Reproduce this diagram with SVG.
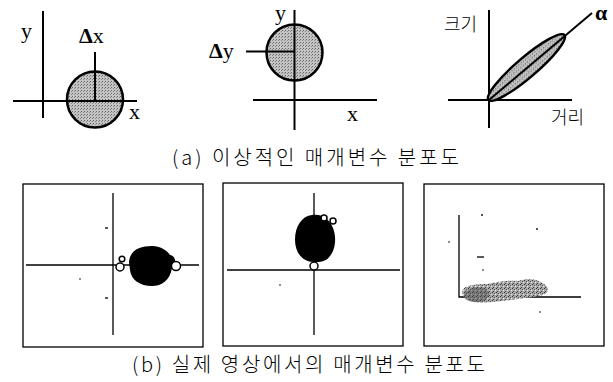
<svg xmlns="http://www.w3.org/2000/svg" width="613" height="382" viewBox="0 0 613 382">
<style>
.ax{stroke:#000;stroke-width:2;fill:none}
.ax1{stroke:#000;stroke-width:1.3;fill:none}
.lbl{font-family:"Liberation Serif","Noto Sans CJK KR",serif;font-size:22px;fill:#000}
.kr{font-family:"Noto Sans CJK KR","Liberation Serif",sans-serif;font-size:18px;font-weight:300;fill:#000}
.cap{font-family:"Noto Sans CJK KR","Liberation Serif",sans-serif;font-size:20px;font-weight:300;fill:#000}
.box{fill:#fff;stroke:#000;stroke-width:1.3}
.blob{fill:#000}
.ring{fill:#fff;stroke:#000;stroke-width:1.5}
</style>
<defs>
<pattern id="dots" width="3" height="3" patternUnits="userSpaceOnUse">
<rect width="3" height="3" fill="#c4c4c4"/>
<rect x="0" y="0" width="1" height="1" fill="#666"/>
<rect x="2" y="1" width="1" height="1" fill="#888"/>
</pattern>
<pattern id="speck" width="4" height="4" patternUnits="userSpaceOnUse">
<rect width="4" height="4" fill="#a8a8a8"/>
<rect x="0" y="0" width="1" height="1" fill="#333"/>
<rect x="2" y="1" width="1" height="1" fill="#555"/>
<rect x="1" y="3" width="1" height="1" fill="#444"/>
<rect x="3" y="2" width="1" height="1" fill="#eee"/>
</pattern>
</defs>

<g id="panel-a1">
<line class="ax" x1="43" y1="11" x2="43" y2="118"/>
<circle cx="95" cy="99.5" r="28" fill="url(#dots)" stroke="#000" stroke-width="2.5"/>
<line class="ax" x1="13" y1="101" x2="137" y2="101"/>
<line class="ax" x1="95" y1="52" x2="95" y2="101"/>
<text class="lbl" x="21" y="38">y</text>
<text class="lbl" x="79" y="43" font-weight="bold">Δ<tspan font-weight="normal">x</tspan></text>
<text class="lbl" x="129" y="119">x</text>
</g>

<g id="panel-a2">
<circle cx="294.5" cy="52.5" r="28" fill="url(#dots)" stroke="#000" stroke-width="2.5"/>
<line class="ax" x1="294.5" y1="10" x2="294.5" y2="130"/>
<line class="ax" x1="253" y1="100" x2="377" y2="100"/>
<line class="ax" x1="246" y1="51.5" x2="294.5" y2="51.5"/>
<text class="lbl" x="275" y="20" font-size="18">y</text>
<text class="lbl" x="209" y="58" font-weight="bold">Δ<tspan font-weight="normal">y</tspan></text>
<text class="lbl" x="347" y="121">x</text>
</g>

<g id="panel-a3">
<line class="ax" x1="489" y1="10" x2="489" y2="128"/>
<line class="ax" x1="448" y1="100" x2="572" y2="100"/>
<ellipse cx="526.5" cy="67.5" rx="50" ry="10" transform="rotate(-40.5 526.5 67.5)" fill="url(#dots)" stroke="#000" stroke-width="2.5"/>
<line class="ax" x1="489" y1="100" x2="592" y2="13"/>
<text class="kr" x="444" y="31">크기</text>
<text class="kr" x="551" y="124">거리</text>
<text class="lbl" x="595" y="20" font-weight="bold">α</text>
</g>

<text class="cap" x="172" y="165" textLength="287" lengthAdjust="spacing">(a) 이상적인 매개변수 분포도</text>

<g id="panel-b1">
<rect class="box" x="23" y="184" width="180" height="163"/>
<line class="ax1" x1="113" y1="193" x2="113" y2="335"/>
<line class="ax1" x1="26" y1="265" x2="199" y2="265"/>
<line class="ax1" x1="105" y1="228" x2="108" y2="228"/>
<line class="ax1" x1="105" y1="298" x2="108" y2="298"/>
<circle cx="80" cy="279" r="0.8"/>
<path class="blob" d="M129,262 C130,250 140,246 152,246 C162,246 168,252 170,255 C176,256 177,264 172,268 C170,280 162,286 152,286 C140,286 131,280 130,270 Z"/>
<circle class="ring" cx="120" cy="267" r="4"/>
<circle class="ring" cx="122" cy="259" r="2.8"/>
<circle class="ring" cx="176" cy="266" r="4.5"/>
</g>

<g id="panel-b2">
<rect class="box" x="223" y="183" width="180" height="163"/>
<line class="ax1" x1="314" y1="193" x2="314" y2="335"/>
<line class="ax1" x1="227" y1="270" x2="400" y2="270"/>
<circle cx="280" cy="285" r="0.8"/>
<path class="blob" d="M312,215 C322,213 330,220 333,228 C337,238 335,250 330,256 C326,262 320,262 314,262 C302,262 295,252 295,240 C295,226 302,216 312,215 Z"/>
<circle class="ring" cx="324" cy="218" r="3"/>
<circle class="ring" cx="333" cy="221" r="3"/>
<circle class="ring" cx="314" cy="266" r="4"/>
</g>

<g id="panel-b3">
<rect class="box" x="424" y="184" width="180" height="162"/>
<polyline class="ax1" points="459,215 459,297 581,297"/>
<line class="ax1" x1="477" y1="257" x2="484" y2="257"/>
<circle cx="482" cy="215" r="0.9"/>
<circle cx="537" cy="229" r="0.9"/>
<circle cx="449" cy="242" r="0.8"/>
<circle cx="483" cy="270" r="0.8"/>
<circle cx="540" cy="312" r="0.8"/>
<path d="M462,292 C463,285 475,284 488,284 C498,281 510,280 518,281 C528,278 538,279 544,284 C550,288 549,293 543,295 C530,298 510,300 492,302 C478,304 463,302 462,292 Z" fill="url(#speck)" stroke="none"/>
<path d="M464,295 C466,288 476,286 485,288 C492,292 490,300 480,302 C470,303 463,300 464,295 Z" fill="#444" opacity="0.45"/>
</g>

<text class="cap" x="132" y="372" textLength="353" lengthAdjust="spacing">(b) 실제 영상에서의 매개변수 분포도</text>
</svg>
